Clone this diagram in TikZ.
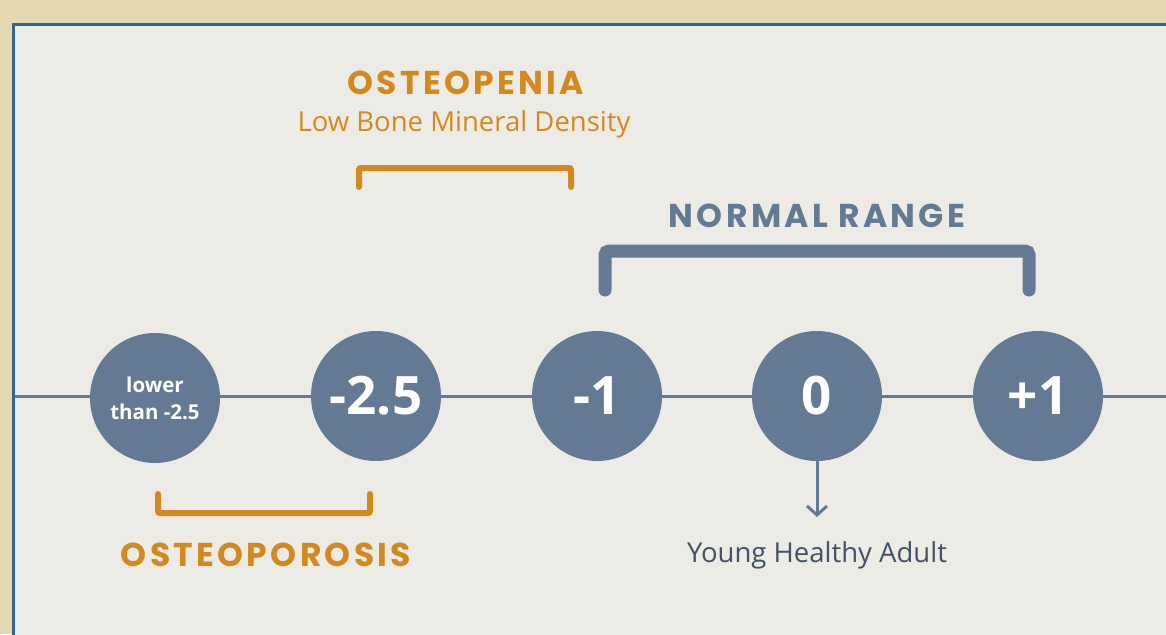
\documentclass[tikz,border=0pt]{standalone}
\usepackage{fontspec}
\setmainfont{Open Sans}
\newfontfamily\headfont{Poppins}[LetterSpace=10]
\usetikzlibrary{arrows.meta, positioning}
\definecolor{cbeige}{HTML}{E3D9B0}
\definecolor{cpanel}{HTML}{EDEBE6}
\definecolor{cframe}{HTML}{34648F}
\definecolor{cslate}{HTML}{647A94}
\definecolor{cochre}{HTML}{D4891E}
\definecolor{cink}{HTML}{435266}
\tikzset{
  every picture/.style={x=1pt, y=-1pt},
  dot/.style={circle, fill=cslate, minimum size=130pt, inner sep=0pt, text=white, font=\fontsize{53}{55}\selectfont\bfseries},
  head/.style={font=\headfont\fontsize{33}{35}\selectfont\bfseries, inner sep=0pt},
  sub/.style={font=\fontsize{27.5}{29}\selectfont, inner sep=0pt},
  bracket/.style={line width=6pt, line cap=round, rounded corners=2pt, draw=cochre},
  arrow/.style={-{Straight Barb[length=9pt, width=20pt, line width=3pt]}, draw=cslate, line width=3pt},
}
\begin{document}
\begin{tikzpicture}
  \useasboundingbox (0,0) rectangle (1166,634);
  \fill[cbeige] (0,0) rectangle (1166,634);
  \begin{scope}
    \clip (0,0) rectangle (1166,634);
    \draw[cframe, fill=cpanel, line width=3pt] (13.5,24.5) rectangle (1200,700);
  \end{scope}

  % scale line
  \coordinate (lstart) at (15,396);
  \coordinate (lend) at (1166,396);
  \draw[cslate, line width=3pt] (lstart) -- (lend);

  % the five scores
  \node[dot, font=\fontsize{20.5}{27}\selectfont\bfseries, align=center] (low) at (155,398) {lower\\than -2.5};
  \node[dot] (m25) at (376,396) {-2.5};
  \node[dot] (m1) at (597,396) {-1};
  \node[dot] (zero) at (817,396) {0};
  \node[dot] (p1) at (1038,396) {+1};

  % osteopenia
  \node[head, text=cochre] (penia) at (466,83) {OSTEOPENIA};
  \node[sub, text=cochre] (lbmd) at (464,124) {Low Bone Mineral Density};
  \draw[bracket] (359,187) -- (359,168) -- (571,168) -- (571,187);

  % normal range
  \node[head, text=cslate] (normal) at (817,216) {NORMAL RANGE};
  \draw[bracket, draw=cslate, line width=13pt, rounded corners=4pt] (605,290) -- (605,251) -- (1029,251) -- (1029,290);

  % osteoporosis
  \draw[bracket] (158,494) -- (158,513) -- (370,513) -- (370,494);
  \node[head, text=cochre] (porosis) at (266,555) {OSTEOPOROSIS};

  % young adult
  \node[sub, text=cink] (adult) at (817,555) {Young Healthy Adult};
  \coordinate (tip) at (817,517);
  \draw[arrow] (zero.south) -- (tip);
\end{tikzpicture}
\end{document}
